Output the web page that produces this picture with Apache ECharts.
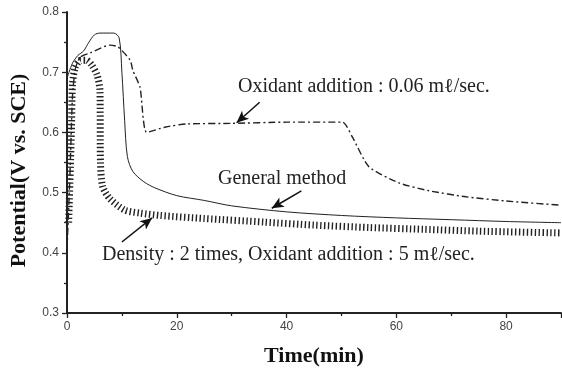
<!DOCTYPE html>
<html>
<head>
<meta charset="utf-8">
<script src="https://cdn.jsdelivr.net/npm/echarts@6/dist/echarts.min.js"></script>
<style>html,body{margin:0;padding:0;background:#fff}#c{width:562px;height:372px}</style>
</head>
<body>
<div id="c"></div>
<script>
// General method (solid)
var generalX = [0, 1, 2, 3, 4, 5, 6, 8.5, 9.5, 10, 10.5, 11, 12, 14, 16, 20, 25, 30, 40, 50, 60, 70, 80, 90];
var generalY = [0.69, 0.715, 0.728, 0.735, 0.75, 0.762, 0.765, 0.765, 0.757, 0.70, 0.62, 0.56, 0.535, 0.518, 0.508, 0.495, 0.487, 0.478, 0.468, 0.462, 0.458, 0.455, 0.452, 0.45];
// Oxidant addition 0.06 ml/sec (dash-dot)
var oxidantX = [0, 0.5, 1, 1.5, 2.4, 4.2, 7.8, 9.3, 11.5, 12, 13.3, 14.5, 18, 21.8, 30, 40, 50.2, 52, 55, 60.5, 66, 72.7, 80, 90];
var oxidantY = [0.405, 0.52, 0.66, 0.705, 0.725, 0.732, 0.745, 0.742, 0.72, 0.703, 0.675, 0.60, 0.609, 0.614, 0.615, 0.617, 0.617, 0.592, 0.543, 0.516, 0.503, 0.493, 0.486, 0.479];
// Density 2 times, oxidant 5 ml/sec (thick hatched)
var densityX = [0.3, 0.8, 1, 1.5, 2.5, 3.5, 4.5, 5.5, 6, 6.1, 6.5, 7.8, 10.5, 13.3, 17, 25, 36, 45, 55, 65, 75, 90];
var densityY = [0.45, 0.6, 0.68, 0.708, 0.72, 0.72, 0.712, 0.695, 0.67, 0.55, 0.51, 0.49, 0.471, 0.466, 0.462, 0.457, 0.451, 0.446, 0.442, 0.439, 0.436, 0.433];
// annotation arrows [fromX, fromY, toX, toY]
var arrowOxidant = [35.1, 0.650, 30.9, 0.616];
var arrowGeneral = [42.7, 0.503, 37.3, 0.474];
var arrowDensity = [10.0, 0.418, 15.5, 0.458];
var xTitle = 'Time(min)';
var yTitle = 'Potential(V vs. SCE)';

function pairs(xs, ys) { return xs.map(function (x, i) { return [x, ys[i]]; }); }
function arrow(a) { return [{ coord: [a[0], a[1]] }, { coord: [a[2], a[3]] }]; }

var chart = echarts.init(document.getElementById('c'));
var labelFont = { fontFamily: 'Liberation Sans, Arial, sans-serif', fontSize: 12, color: '#444' };
var serif = 'Liberation Serif, Times New Roman, serif';
chart.setOption({
  animation: false,
  backgroundColor: '#fff',
  grid: { left: 67, right: 1, top: 12, bottom: 59, containLabel: false, outerBoundsMode: 'none' },
  xAxis: {
    type: 'value', min: 0, max: 90, interval: 20,
    name: xTitle, nameLocation: 'middle', nameGap: 32,
    nameTextStyle: { fontFamily: serif, fontWeight: 'bold', fontSize: 22, color: '#111' },
    axisLine: { show: true, lineStyle: { color: '#222', width: 2 } },
    axisTick: { show: true, length: 5, lineStyle: { color: '#222', width: 1.3 } },
    minorTick: { show: true, splitNumber: 2, length: 3, lineStyle: { color: '#222', width: 1.3 } },
    axisLabel: Object.assign({ margin: 8, showMaxLabel: false }, labelFont),
    splitLine: { show: false }
  },
  yAxis: {
    type: 'value', min: 0.3, max: 0.8, interval: 0.1,
    name: yTitle, nameLocation: 'middle', nameGap: 37,
    nameTextStyle: { fontFamily: serif, fontWeight: 'bold', fontSize: 22, color: '#111', padding: [0, 16, 0, 0] },
    axisLine: { show: true, lineStyle: { color: '#222', width: 2 } },
    axisTick: { show: true, length: 5, lineStyle: { color: '#222', width: 1.3 } },
    minorTick: { show: true, splitNumber: 2, length: 3, lineStyle: { color: '#222', width: 1.3 } },
    axisLabel: Object.assign({ margin: 8, formatter: function (v) { return v.toFixed(1); } }, labelFont),
    splitLine: { show: false }
  },
  series: [
    {
      type: 'line', data: pairs(densityX, densityY), symbol: 'none', smooth: 0.25,
      lineStyle: { color: '#222', width: 7, type: [1.4, 2.5] }
    },
    {
      type: 'line', data: pairs(generalX, generalY), symbol: 'none', smooth: 0.3,
      lineStyle: { color: '#222', width: 1 },
      markLine: {
        silent: true, symbol: ['none', 'arrow'], symbolSize: [8, 12],
        lineStyle: { color: '#111', width: 1.5, type: 'solid' }, label: { show: false },
        data: [arrow(arrowGeneral), arrow(arrowOxidant), arrow(arrowDensity)]
      }
    },
    {
      type: 'line', data: pairs(oxidantX, oxidantY), symbol: 'none', smooth: 0.2,
      lineStyle: { color: '#222', width: 1.4, type: [7, 3, 2, 3] }
    }
  ],
  graphic: [
    { type: 'text', left: 238, top: 77, style: { text: 'Oxidant addition : 0.06 mℓ/sec.', font: '20px ' + serif, fill: '#222' } },
    { type: 'text', left: 218, top: 169, style: { text: 'General method', font: '20px ' + serif, fill: '#222' } },
    { type: 'text', left: 102, top: 245, style: { text: 'Density : 2 times, Oxidant addition : 5 mℓ/sec.', font: '20px ' + serif, fill: '#222' } }
  ]
});
</script>
</body>
</html>
